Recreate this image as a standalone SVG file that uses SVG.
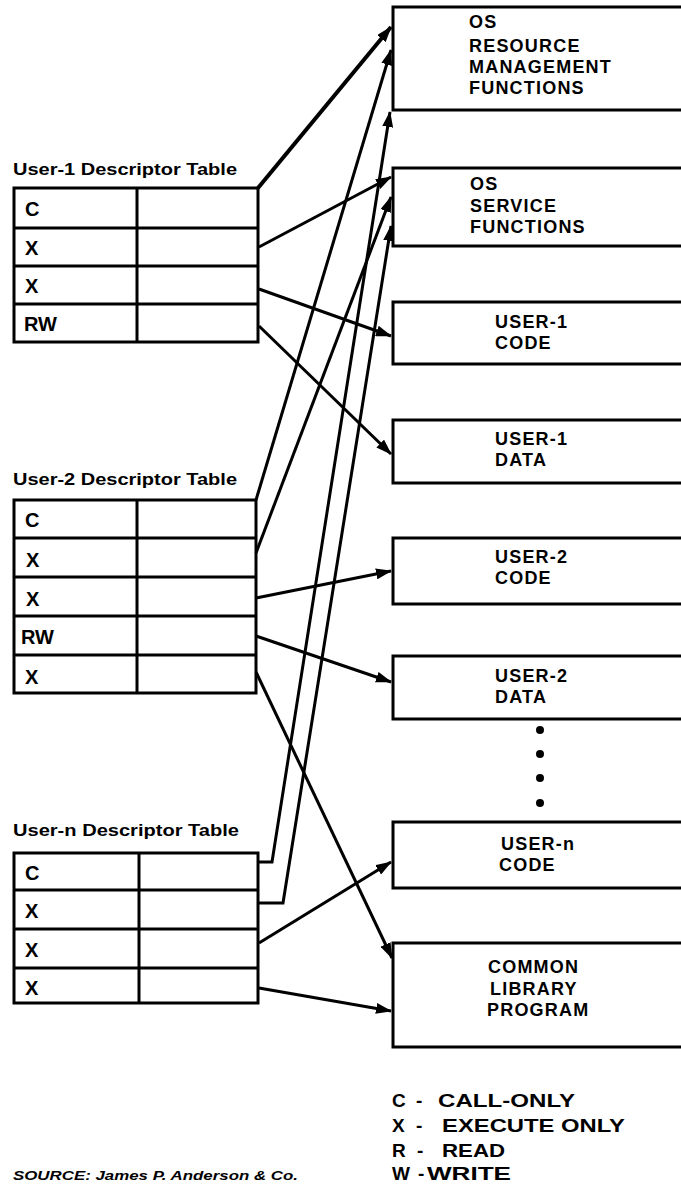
<svg xmlns="http://www.w3.org/2000/svg" width="681" height="1185" viewBox="0 0 681 1185">
<style>
.tbl{fill:none;stroke:#000;stroke-width:3}
.box{fill:#fff;stroke:#000;stroke-width:3}
.ttl{font-family:"Liberation Sans",Arial,sans-serif;font-weight:bold;font-size:16px;fill:#000}
.cell{font-family:"Liberation Sans",Arial,sans-serif;font-weight:bold;font-size:20px;fill:#000}
.bx{font-family:"Liberation Sans",Arial,sans-serif;font-weight:bold;font-size:18px;letter-spacing:1.2px;fill:#000}
.lg{font-family:"Liberation Sans",Arial,sans-serif;font-weight:bold;font-size:19px;fill:#000}
.src{font-family:"Liberation Sans",Arial,sans-serif;font-weight:bold;font-style:italic;font-size:13px;fill:#000}
.arr{fill:none;stroke:#000;stroke-width:3;marker-end:url(#ah)}
</style>
<defs>
<marker id="ah" markerUnits="userSpaceOnUse" markerWidth="16" markerHeight="11" refX="15" refY="5.5" orient="auto">
<path d="M0,0 L16,5.5 L0,11 z" fill="#000"/>
</marker>
</defs>
<rect width="681" height="1185" fill="#fff"/>

<g id="box-os-resource">
<rect class="box" x="393" y="7" width="320" height="103"/>
<text class="bx" x="469" y="28">OS</text>
<text class="bx" x="469" y="52">RESOURCE</text>
<text class="bx" x="469" y="73">MANAGEMENT</text>
<text class="bx" x="469" y="94">FUNCTIONS</text>
</g>
<g id="box-os-service">
<rect class="box" x="393" y="168" width="320" height="78"/>
<text class="bx" x="470" y="190">OS</text>
<text class="bx" x="470" y="212">SERVICE</text>
<text class="bx" x="470" y="233">FUNCTIONS</text>
</g>
<g id="box-user1-code">
<rect class="box" x="393" y="302" width="320" height="62"/>
<text class="bx" x="495" y="328">USER-1</text>
<text class="bx" x="495" y="349">CODE</text>
</g>
<g id="box-user1-data">
<rect class="box" x="393" y="420" width="320" height="63"/>
<text class="bx" x="495" y="445">USER-1</text>
<text class="bx" x="495" y="466">DATA</text>
</g>
<g id="box-user2-code">
<rect class="box" x="393" y="538" width="320" height="66"/>
<text class="bx" x="495" y="563">USER-2</text>
<text class="bx" x="495" y="584">CODE</text>
</g>
<g id="box-user2-data">
<rect class="box" x="393" y="656" width="320" height="63"/>
<text class="bx" x="495" y="682">USER-2</text>
<text class="bx" x="495" y="703">DATA</text>
</g>
<g id="ellipsis">
<circle cx="540" cy="730" r="4"/>
<circle cx="540" cy="754" r="4"/>
<circle cx="540" cy="778" r="4"/>
<circle cx="540" cy="803" r="4"/>
</g>
<g id="box-usern-code">
<rect class="box" x="393" y="822" width="320" height="66"/>
<text class="bx" x="501" y="850">USER-n</text>
<text class="bx" x="499" y="871">CODE</text>
</g>
<g id="box-common-library">
<rect class="box" x="393" y="943" width="320" height="104"/>
<text class="bx" x="488" y="973">COMMON</text>
<text class="bx" x="490" y="995">LIBRARY</text>
<text class="bx" x="487" y="1016">PROGRAM</text>
</g>

<g id="table-user1">
<text class="ttl" x="13" y="175" textLength="224" lengthAdjust="spacingAndGlyphs">User-1  Descriptor Table</text>
<rect class="tbl" x="14" y="188" width="244" height="154"/>
<path class="tbl" d="M137,188 V342 M14,228 H258 M14,266 H258 M14,304 H258"/>
<text class="cell" x="25" y="216">C</text>
<text class="cell" x="25" y="255">X</text>
<text class="cell" x="25" y="293">X</text>
<text class="cell" x="24" y="331">RW</text>
</g>
<g id="table-user2">
<text class="ttl" x="13" y="485" textLength="224" lengthAdjust="spacingAndGlyphs">User-2  Descriptor Table</text>
<rect class="tbl" x="14" y="500" width="242" height="193"/>
<path class="tbl" d="M137,500 V693 M14,538 H256 M14,577 H256 M14,616 H256 M14,655 H256"/>
<text class="cell" x="25" y="527">C</text>
<text class="cell" x="26" y="567">X</text>
<text class="cell" x="26" y="606">X</text>
<text class="cell" x="21" y="644">RW</text>
<text class="cell" x="25" y="684">X</text>
</g>
<g id="table-usern">
<text class="ttl" x="13" y="836" textLength="226" lengthAdjust="spacingAndGlyphs">User-n  Descriptor Table</text>
<rect class="tbl" x="14" y="853" width="244" height="150"/>
<path class="tbl" d="M139,853 V1003 M14,890 H258 M14,929 H258 M14,968 H258"/>
<text class="cell" x="25" y="880">C</text>
<text class="cell" x="25" y="918">X</text>
<text class="cell" x="25" y="957">X</text>
<text class="cell" x="25" y="995">X</text>
</g>

<g id="connectors">
<path class="arr" d="M258,188 L391,27" style="stroke-width:4"/>
<path class="arr" d="M259,247 L391,177"/>
<path class="arr" d="M259,289 L391,336"/>
<path class="arr" d="M259,326 L391,454"/>
<path class="arr" d="M256,500 L391,50"/>
<path class="arr" d="M256,553 L391,197"/>
<path class="arr" d="M256,598 L391,571"/>
<path class="arr" d="M256,636 L391,682"/>
<path class="arr" d="M256,672 L392,958"/>
<path class="arr" d="M258,862 L272,862 L390,112"/>
<path class="arr" d="M258,903 L283,903 L391,226"/>
<path class="arr" d="M259,943 L391,862"/>
<path class="arr" d="M259,988 L391,1011"/>
</g>

<g id="legend">
<text class="lg" x="392" y="1107">C</text>
<text class="lg" x="416" y="1107">-</text>
<text class="lg" x="438" y="1107" textLength="137" lengthAdjust="spacingAndGlyphs">CALL-ONLY</text>
<text class="lg" x="392" y="1132">X</text>
<text class="lg" x="416" y="1132">-</text>
<text class="lg" x="442" y="1132" textLength="183" lengthAdjust="spacingAndGlyphs">EXECUTE ONLY</text>
<text class="lg" x="392" y="1157">R</text>
<text class="lg" x="417" y="1157">-</text>
<text class="lg" x="442" y="1157" textLength="63" lengthAdjust="spacingAndGlyphs">READ</text>
<text class="lg" x="392" y="1180">W</text>
<text class="lg" x="418" y="1180">-</text>
<text class="lg" x="427" y="1180" textLength="84" lengthAdjust="spacingAndGlyphs">WRITE</text>
</g>
<text id="source" class="src" x="13" y="1180" textLength="285" lengthAdjust="spacingAndGlyphs">SOURCE:  James P. Anderson &amp; Co.</text>
</svg>
